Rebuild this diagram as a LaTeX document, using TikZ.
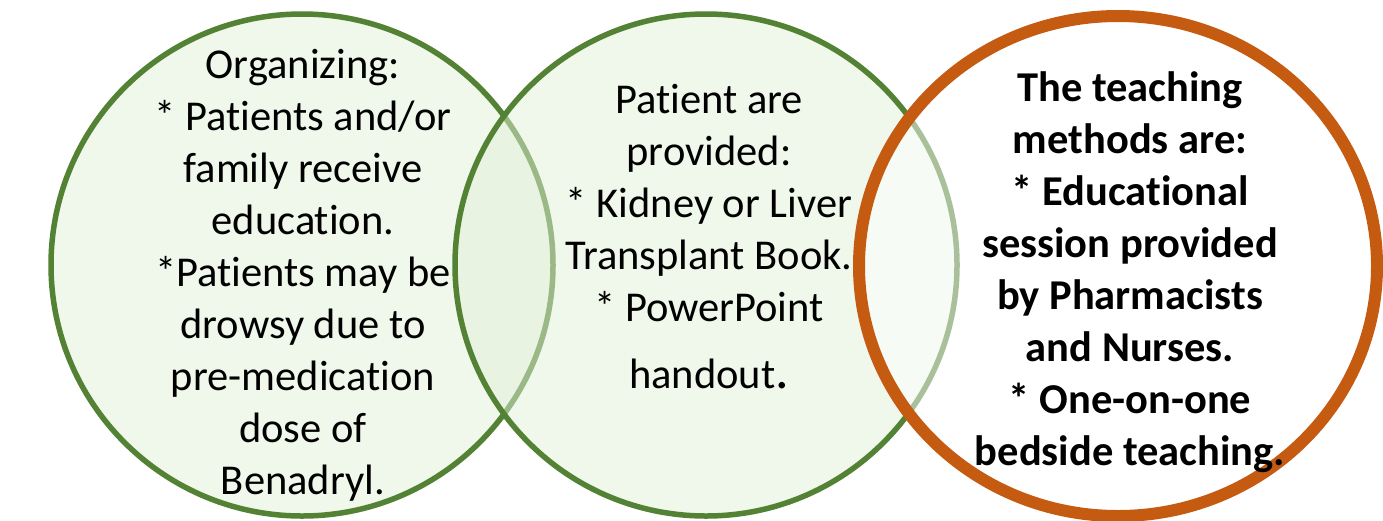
\documentclass[tikz,border=0pt]{standalone}
\usepackage{fontspec}
\setmainfont{Carlito}[Ligatures=NoCommon]
\usetikzlibrary{shapes.geometric}
\definecolor{vgreen}{HTML}{548235}
\definecolor{vfill}{HTML}{E2F0D9}
\definecolor{vorange}{HTML}{C55A11}
\begin{document}
\begin{tikzpicture}[x=1pt,y=-1pt,
  gcirc/.style={circle, inner sep=0pt, minimum size=502pt, line width=5.5pt, draw=vgreen, fill=vfill, fill opacity=0.5},
  ocirc/.style={ellipse, inner sep=0pt, minimum width=518pt, minimum height=500pt, line width=12pt, draw=vorange, fill=white, fill opacity=0.5},
  regtext/.style={align=center, inner sep=0pt, font=\fontsize{42.5}{52}\selectfont, text=black},
  boldtext/.style={align=center, inner sep=0pt, font=\fontsize{42.5}{52}\selectfont\bfseries, text=black}]
\useasboundingbox (0,0) rectangle (1383,520);
\fill[white] (0,0) rectangle (1383,520);
\node[gcirc] (left) at (302,265) {};
\node[gcirc] (mid) at (706,265) {};
\node[ocirc] (right) at (1118,266) {};
\node[regtext, anchor=base] (ltext) at (303,494) {Organizing:\\* Patients and/or\\family receive\\education.\\*Patients may be\\drowsy due to\\pre-medication\\dose of\\Benadryl.};
\node[regtext, anchor=base] (mtext) at (709,388) {Patient are\\provided:\\* Kidney or Liver\\Transplant Book.\\* PowerPoint\\[15pt]handout{\fontsize{54}{52}\selectfont .}};
\node[boldtext, anchor=base] (rtext) at (1130,465) {The teaching\\methods are:\\* Educational\\session provided\\by Pharmacists\\and Nurses.\\* One-on-one\\bedside teaching.};
\end{tikzpicture}
\end{document}
